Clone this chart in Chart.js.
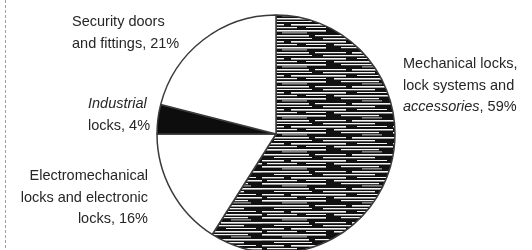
<!DOCTYPE html>
<html>
<head>
<meta charset="utf-8">
<script src="https://cdn.jsdelivr.net/npm/chart.js@4/dist/chart.umd.min.js"></script>
<style>
  html, body { margin: 0; padding: 0; background: #fff; }
  #wrap { width: 532px; height: 250px; }
</style>
</head>
<body>
<div id="wrap"><canvas id="pie" width="532" height="250"></canvas></div>
<script>
// data, clockwise from 12 o'clock
const categories = [
    'Mechanical locks, lock systems and accessories',
    'Electromechanical locks and electronic locks',
    'Industrial locks',
    'Security doors and fittings'
];
const shares = [59, 16, 4, 21];

// label text, one array per slice; [text, italic]
const labelLines = [
    [[['Mechanical locks,', false]], [['lock systems and', false]], [['accessories', true], [', 59%', false]]],
    [[['Electromechanical', false]], [['locks and electronic', false]], [['locks, 16%', false]]],
    [[['Industrial', true]], [['locks, 4%', false]]],
    [[['Security doors', false]], [['and fittings, 21%', false]]]
];

// scanned-looking fill: black with broken white horizontal streaks
function streakPattern() {
    const c = document.createElement('canvas');
    c.width = 131; c.height = 17;
    const g = c.getContext('2d');
    g.fillStyle = '#111';
    g.fillRect(0, 0, 131, 17);
    g.fillStyle = '#f4f4f4';
    // [row, start, length, thickness]
    const streaks = [
        [1, 0, 47, 1.5], [1, 53, 31, 1.2], [1, 90, 41, 1.6],
        [4, 12, 38, 1], [4, 61, 52, 1.3],
        [7, 0, 22, 1.4], [7, 29, 55, 1.6], [7, 95, 30, 1],
        [10, 5, 30, 1.2], [10, 44, 20, 1], [10, 72, 59, 1.5],
        [13, 0, 64, 1.6], [13, 79, 38, 1.2],
        [15.5, 20, 25, 0.8], [15.5, 100, 20, 0.8]
    ];
    streaks.forEach(s => g.fillRect(s[1], s[0], s[2], s[3]));
    return g.createPattern(c, 'repeat');
}

const ctx = document.getElementById('pie').getContext('2d');

// where each label block sits: x, first baseline, align
const labelPos = [
    { x: 403, y: 68, align: 'left' },
    { x: 148, y: 180, align: 'right' },
    { x: 88, y: 108, align: 'left' },
    { x: 72, y: 26, align: 'left' }
];

const labelsPlugin = {
    id: 'sliceLabels',
    afterDraw(chart) {
        const c = chart.ctx;
        c.save();
        // scan edge line on the left
        c.strokeStyle = '#a0a0a0';
        c.lineWidth = 1;
        c.setLineDash([3, 2]);
        c.beginPath();
        c.moveTo(5.5, 0);
        c.lineTo(5.5, 250);
        c.stroke();
        c.setLineDash([]);

        c.fillStyle = '#262626';
        c.textBaseline = 'alphabetic';
        labelLines.forEach((lines, i) => {
            const p = labelPos[i];
            lines.forEach((segs, j) => {
                const y = p.y + j * 21.5;
                const widths = segs.map(s => {
                    c.font = (s[1] ? 'italic ' : '') + '14.5px "Liberation Sans", Arial, sans-serif';
                    return c.measureText(s[0]).width;
                });
                const total = widths.reduce((a, b) => a + b, 0);
                let x = p.align === 'right' ? p.x - total : p.x;
                segs.forEach((s, k) => {
                    c.font = (s[1] ? 'italic ' : '') + '14.5px "Liberation Sans", Arial, sans-serif';
                    c.textAlign = 'left';
                    c.fillText(s[0], x, y);
                    x += widths[k];
                });
            });
        });
        c.restore();
    }
};

new Chart(ctx, {
    type: 'pie',
    data: {
        labels: categories,
        datasets: [{
            data: shares,
            backgroundColor: [streakPattern(), '#ffffff', '#0d0d0d', '#ffffff'],
            borderColor: '#3a3a3a',
            borderWidth: 1.5,
            radius: 119
        }]
    },
    options: {
        responsive: false,
        animation: false,
        layout: { padding: { left: 20, right: 0, top: 18, bottom: 0 } },
        plugins: {
            legend: { display: false },
            tooltip: { enabled: false }
        }
    },
    plugins: [labelsPlugin]
});
</script>
</body>
</html>
